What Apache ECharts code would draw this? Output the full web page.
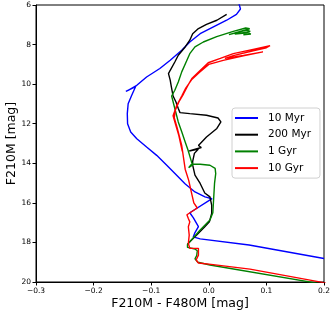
<!DOCTYPE html>
<html>
<head>
<meta charset="utf-8">
<script src="https://cdn.jsdelivr.net/npm/echarts@6/dist/echarts.min.js"></script>
<style>
  html, body { margin: 0; padding: 0; background: #fff; }
  #chart { width: 332px; height: 320px; }
</style>
</head>
<body>
<div id="chart"></div>
<script>
// isochrones: [F210M - F480M, F210M]
const myr10 = [
  [0.052, 5.9], [0.055, 6.2], [0.048, 6.47], [0.031, 6.77], [0.008, 7.11], [-0.015, 7.45],
  [-0.033, 7.87], [-0.047, 8.29], [-0.067, 8.79], [-0.085, 9.21], [-0.108, 9.64], [-0.125, 10.06],
  [-0.140, 10.32], [-0.144, 10.37], [-0.127, 10.12], [-0.134, 10.57], [-0.140, 10.99], [-0.1415, 11.49],
  [-0.141, 12.0], [-0.1356, 12.42], [-0.125, 12.76], [-0.108, 13.18], [-0.0905, 13.6], [-0.073, 14.1],
  [-0.0558, 14.6], [-0.0413, 15.03], [-0.024, 15.45], [-0.0066, 15.7], [0.0056, 15.79],
  [-0.033, 16.5], [-0.027, 16.75], [-0.018, 17.2], [-0.024, 17.5], [-0.027, 17.72], [-0.015, 17.82],
  [0.07, 18.13], [0.2, 18.81]
];
const myr200 = [
  [0.031, 6.47], [0.014, 6.77], [-0.004, 6.98], [-0.018, 7.19], [-0.028, 7.45], [-0.033, 7.78],
  [-0.041, 8.12], [-0.053, 8.54], [-0.059, 8.88], [-0.067, 9.30], [-0.070, 9.47], [-0.067, 9.80],
  [-0.065, 10.14], [-0.062, 10.6], [-0.057, 10.9], [-0.053, 11.23], [-0.050, 11.44], [-0.033, 11.49],
  [-0.004, 11.57], [0.016, 11.71], [0.021, 11.91], [0.014, 12.24], [-0.004, 12.67], [-0.018, 13.1],
  [-0.013, 13.2], [-0.034, 13.38], [-0.018, 13.28], [-0.025, 13.5], [-0.028, 13.9], [-0.028, 14.09],
  [-0.024, 14.6], [-0.015, 15.02], [-0.007, 15.5], [0.002, 15.7], [0.005, 16.11], [0.005, 16.53],
  [0.001, 16.96], [-0.007, 17.21], [-0.021, 17.63], [-0.033, 17.97], [-0.037, 18.1]
];
const gyr1 = [
  [0.060, 7.50], [0.073, 7.47], [0.068, 7.40], [0.045, 7.47], [0.072, 7.33], [0.066, 7.27],
  [0.035, 7.50], [0.071, 7.20], [0.064, 7.16], [0.0425, 7.33], [0.0137, 7.60], [-0.0095, 7.87],
  [-0.024, 8.12], [-0.033, 8.46],
  [-0.038, 8.79], [-0.047, 9.38], [-0.053, 9.89], [-0.059, 10.31], [-0.0645, 10.6], [-0.059, 11.23],
  [-0.053, 11.91], [-0.047, 12.41], [-0.041, 12.92], [-0.036, 13.34], [-0.030, 13.93], [-0.028, 14.08],
  [-0.035, 14.22], [-0.038, 14.14], [-0.030, 14.05], [-0.015, 14.05], [0.002, 14.1], [0.011, 14.26],
  [0.012, 14.52], [0.010, 15.0], [0.008, 16.0], [0.007, 16.5], [0.002, 16.87], [-0.015, 17.37],
  [-0.033, 17.97], [-0.037, 18.1], [-0.037, 18.25], [-0.024, 18.33], [-0.020, 18.42], [-0.021, 18.66],
  [-0.024, 18.83], [-0.019, 19.0], [0.002, 19.14], [0.18, 20.02], [0.21, 20.17]
];
const gyr10 = [
  [0.21, 20.1], [0.19, 19.98], [0.0715, 19.35], [0.0076, 19.12], [-0.018, 19.04], [-0.022, 18.89],
  [-0.018, 18.64], [-0.018, 18.3], [-0.021, 18.38], [-0.033, 18.3], [-0.0355, 18.05], [-0.034, 17.63],
  [-0.0355, 17.21], [-0.033, 16.96], [-0.0355, 16.79], [-0.038, 16.6], [-0.030, 16.45], [-0.020, 16.26],
  [-0.026, 16.0], [-0.030, 15.5], [-0.035, 14.85], [-0.041, 14.3], [-0.047, 13.1], [-0.055, 12.2],
  [-0.060, 11.7], [-0.058, 11.3], [-0.052, 10.9], [-0.044, 10.5], [-0.037, 10.1], [-0.029, 9.7],
  [-0.016, 9.33], [-0.001, 8.92], [0.02, 8.70], [0.0425, 8.46], [0.077, 8.24], [0.1063, 8.06],
  [0.100, 8.16], [0.077, 8.31], [0.0425, 8.56], [0.028, 8.70], [0.060, 8.55], [0.094, 8.37],
  [0.060, 8.57], [0.025, 8.80], [0.0, 9.0], [-0.016, 9.40],
  [-0.030, 9.78], [-0.040, 10.2], [-0.047, 10.6], [-0.056, 11.1], [-0.062, 11.6], [-0.058, 12.0],
  [-0.052, 12.6], [-0.046, 13.4]
];
const xTicks = [-0.3, -0.2, -0.1, 0.0, 0.1, 0.2];
const yTicks = [6, 8, 10, 12, 14, 16, 18, 20];

const font = 'DejaVu Sans';
const chart = echarts.init(document.getElementById('chart'));

const fmtX = (v) => {
  if (Math.abs(v) < 1e-9) return '0.0';
  return (v < 0 ? '\u2212' : '') + Math.abs(v).toFixed(1);
};

const line = (name, data, color) => ({
  name,
  type: 'line',
  data,
  showSymbol: false,
  symbol: 'none',
  lineStyle: { color, width: 1.4 },
  itemStyle: { color },
  animation: false,
  clip: true
});

chart.setOption({
  animation: false,
  textStyle: { fontFamily: font },
  grid: {
    left: 36, right: 8, top: 5, bottom: 38,
    outerBoundsMode: 'none',
    containLabel: false,
    show: true, borderColor: '#000', borderWidth: 1
  },
  legend: {
    orient: 'vertical',
    left: 232, top: 108,
    padding: [4, 9, 4, 3],
    itemGap: 4.7,
    itemWidth: 23,
    itemHeight: 2,
    icon: 'rect',
    backgroundColor: '#fff',
    borderColor: '#d0d0d0',
    borderWidth: 1,
    borderRadius: 3,
    textStyle: { fontFamily: font, fontSize: 10.5, color: '#000', lineHeight: 12, padding: [0, 0, 0, 5] },
    data: ['10 Myr', '200 Myr', '1 Gyr', '10 Gyr']
  },
  xAxis: {
    type: 'value',
    min: xTicks[0], max: xTicks[xTicks.length - 1], interval: 0.1,
    name: 'F210M - F480M [mag]',
    nameLocation: 'middle',
    nameGap: 15,
    nameMoveOverlap: false,
    nameTextStyle: { fontFamily: font, fontSize: 12.5, color: '#000' },
    axisLine: { show: true, onZero: false, lineStyle: { color: '#000', width: 1 } },
    axisTick: { show: true, inside: false, length: 3.5, lineStyle: { color: '#000' } },
    axisLabel: { fontFamily: font, fontSize: 7.5, color: '#000', margin: 5, formatter: fmtX },
    splitLine: { show: false }
  },
  yAxis: {
    type: 'value',
    inverse: true,
    min: yTicks[0], max: yTicks[yTicks.length - 1], interval: 2,
    name: 'F210M [mag]',
    nameLocation: 'middle',
    nameGap: 18,
    nameMoveOverlap: false,
    nameRotate: 90,
    nameTextStyle: { fontFamily: font, fontSize: 12.5, color: '#000' },
    axisLine: { show: true, onZero: false, lineStyle: { color: '#000', width: 1 } },
    axisTick: { show: true, inside: false, length: 3.5, lineStyle: { color: '#000' } },
    axisLabel: { fontFamily: font, fontSize: 7.5, color: '#000', margin: 5 },
    splitLine: { show: false }
  },
  series: [
    line('10 Myr', myr10, '#0000ff'),
    line('200 Myr', myr200, '#000000'),
    line('1 Gyr', gyr1, '#008000'),
    line('10 Gyr', gyr10, '#ff0000')
  ]
});
</script>
</body>
</html>
